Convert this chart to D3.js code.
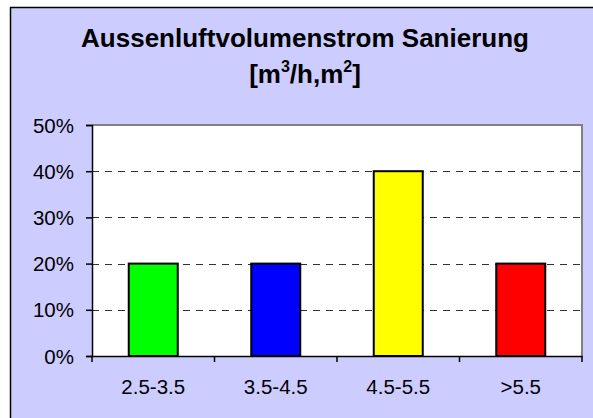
<!DOCTYPE html>
<html>
<head>
<meta charset="utf-8">
<script src="https://cdn.jsdelivr.net/npm/d3@7"></script>
<style>
html, body { margin: 0; padding: 0; background: #ffffff; }
svg { display: block; }
</style>
</head>
<body>
<svg id="chart" width="593" height="418"></svg>
<script>
const categories = ["2.5-3.5", "3.5-4.5", "4.5-5.5", ">5.5"];
const values = [0.20, 0.20, 0.40, 0.20];
const barColors = ["#00FF00", "#0000FF", "#FFFF00", "#FF0000"];
const yTicks = [0, 0.1, 0.2, 0.3, 0.4, 0.5];
const titleLine1 = "Aussenluftvolumenstrom Sanierung";

const svg = d3.select("#chart");
const font = "'Liberation Sans', Arial, sans-serif";

// outer chart panel
svg.append("rect")
  .attr("x", 10.5).attr("y", 7.5)
  .attr("width", 600).attr("height", 430)
  .attr("fill", "#CCCCFF")
  .attr("stroke", "#000").attr("stroke-width", 1.5);

const plot = { left: 92, right: 582, top: 125, bottom: 356 };

const x = d3.scaleBand().domain(categories)
  .range([plot.left, plot.right]).paddingInner(0.6).paddingOuter(0.3);
const xb = d3.scaleBand().domain(categories).range([plot.left, plot.right]);
const y = d3.scaleLinear().domain([0, 0.5]).range([plot.bottom, plot.top]);

// plot area
svg.append("rect")
  .attr("x", plot.left).attr("y", plot.top)
  .attr("width", plot.right - plot.left).attr("height", plot.bottom - plot.top)
  .attr("fill", "#fff");
// gray frame top and right
svg.append("path")
  .attr("d", `M${plot.left},${plot.top}H${plot.right}V${plot.bottom}`)
  .attr("fill", "none").attr("stroke", "#808080").attr("stroke-width", 2);

// gridlines
svg.append("g").selectAll("line")
  .data(yTicks.filter(d => d > 0 && d < 0.5))
  .join("line")
  .attr("x1", plot.left).attr("x2", plot.right)
  .attr("y1", d => Math.round(y(d)) + 0.5).attr("y2", d => Math.round(y(d)) + 0.5)
  .attr("stroke", "#333").attr("stroke-width", 1)
  .attr("stroke-dasharray", "7,6");

// bars
svg.append("g").selectAll("rect")
  .data(categories)
  .join("rect")
  .attr("x", d => x(d))
  .attr("y", (d, i) => y(values[i]))
  .attr("width", x.bandwidth())
  .attr("height", (d, i) => plot.bottom - y(values[i]))
  .attr("fill", (d, i) => barColors[i])
  .attr("stroke", "#000").attr("stroke-width", 2);

// y axis
const yAxis = d3.axisLeft(y).tickValues(yTicks).tickFormat(d3.format(".0%"))
  .tickSize(6).tickPadding(12);
const gy = svg.append("g").attr("transform", `translate(${plot.left},0)`).call(yAxis);
gy.select(".domain").attr("stroke", "#000").attr("stroke-width", 1.5);
gy.selectAll(".tick line").attr("stroke", "#000").attr("stroke-width", 1.5);
gy.selectAll("text").attr("font-family", font).attr("font-size", "20.5px")
  .attr("fill", "#000").attr("dy", "0.35em");

// x axis
const xAxis = d3.axisBottom(xb).tickSize(0).tickPadding(0);
const gx = svg.append("g").attr("transform", `translate(0,${plot.bottom})`).call(xAxis);
gx.select(".domain").attr("stroke", "#000").attr("stroke-width", 1.5);
gx.selectAll("text").attr("font-family", font).attr("font-size", "20.5px")
  .attr("fill", "#000").attr("y", 38).attr("dy", 0);
// category boundary ticks
const bounds = categories.map(c => xb(c)).concat([plot.right]);
svg.append("g").selectAll("line").data(bounds).join("line")
  .attr("x1", d => d).attr("x2", d => d)
  .attr("y1", plot.bottom).attr("y2", plot.bottom + 6)
  .attr("stroke", "#000").attr("stroke-width", 1.5);

// title
svg.append("text")
  .attr("x", 305).attr("y", 47)
  .attr("text-anchor", "middle")
  .attr("font-family", font).attr("font-weight", "bold").attr("font-size", "26px")
  .text(titleLine1);
const t2 = svg.append("text")
  .attr("x", 305).attr("y", 83)
  .attr("text-anchor", "middle")
  .attr("font-family", font).attr("font-weight", "bold").attr("font-size", "26px");
t2.append("tspan").text("[m");
t2.append("tspan").attr("dy", -11).attr("font-size", "16px").text("3");
t2.append("tspan").attr("dy", 11).text("/h,m");
t2.append("tspan").attr("dy", -11).attr("font-size", "16px").text("2");
t2.append("tspan").attr("dy", 11).text("]");
</script>
</body>
</html>
